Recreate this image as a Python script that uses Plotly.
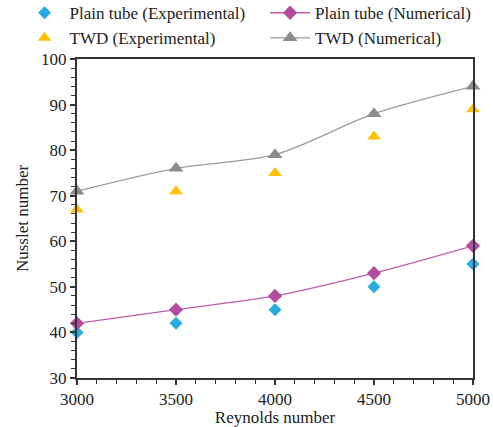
import plotly.graph_objects as go

# Reynolds numbers on the x axis
reynolds = [3000, 3500, 4000, 4500, 5000]

# Nusselt number series
plain_exp = [40, 42, 45, 50, 55]
plain_num = [42, 45, 48, 53, 59]
twd_exp = [67, 71, 75, 83, 89]
twd_num = [71, 76, 79, 88, 94]

FONT = "Liberation Serif, Times New Roman, serif"
AXIS_COLOR = "#333333"
TEXT_COLOR = "#222222"

fig = go.Figure()

# experimental points in the left legend column, numerical curves in the right one
fig.add_trace(go.Scatter(
    x=reynolds, y=plain_exp, mode="markers", name="Plain tube (Experimental)",
    marker=dict(symbol="diamond", size=10, color="#29ABE2"), legend="legend",
    cliponaxis=False,
))
fig.add_trace(go.Scatter(
    x=reynolds, y=plain_num, mode="lines+markers", name="Plain tube (Numerical)",
    line=dict(color="#C15AA8", width=1.3, shape="spline", smoothing=0.8),
    marker=dict(symbol="diamond", size=11, color="#B14C9E"), legend="legend2",
    cliponaxis=False,
))
fig.add_trace(go.Scatter(
    x=reynolds, y=twd_exp, mode="markers", name="TWD (Experimental)",
    marker=dict(symbol="triangle-up", size=12, color="#FFC000"), legend="legend",
    cliponaxis=False,
))
fig.add_trace(go.Scatter(
    x=reynolds, y=twd_num, mode="lines+markers", name="TWD (Numerical)",
    line=dict(color="#9A9A9C", width=1.3, shape="spline", smoothing=0.8),
    marker=dict(symbol="triangle-up", size=13, color="#8C8C8E"), legend="legend2",
    cliponaxis=False,
))

axis_common = dict(
    showline=True, linecolor=AXIS_COLOR, linewidth=2, mirror=True,
    showgrid=False, zeroline=False,
    ticks="outside", ticklen=5, tickwidth=1.5, tickcolor=AXIS_COLOR,
    tickfont=dict(family=FONT, size=17, color=TEXT_COLOR),
)

fig.update_xaxes(
    range=[3000, 5000], tickvals=reynolds, ticktext=[str(v) for v in reynolds],
    title=dict(text="Reynolds number", font=dict(family=FONT, size=17, color=TEXT_COLOR), standoff=2),
    minor=dict(dtick=100, ticks="outside", ticklen=4, tickcolor=AXIS_COLOR, tickwidth=1),
    **axis_common,
)
fig.update_yaxes(
    range=[30, 100], dtick=10,
    title=dict(text="Nusslet number", font=dict(family=FONT, size=17, color=TEXT_COLOR), standoff=8),
    minor=dict(dtick=2, ticks="outside", ticklen=4, tickcolor=AXIS_COLOR, tickwidth=1),
    **axis_common,
)

legend_common = dict(
    orientation="v", yanchor="top", xanchor="left", y=1.2,
    itemwidth=40,
    font=dict(family=FONT, size=17, color=TEXT_COLOR),
    bgcolor="rgba(0,0,0,0)", traceorder="normal", tracegroupgap=0,
)

fig.update_layout(
    width=493, height=427,
    margin=dict(l=77, r=20, t=59, b=49, autoexpand=False),
    paper_bgcolor="white", plot_bgcolor="white",
    font=dict(family=FONT, size=17, color=TEXT_COLOR),
    legend=dict(x=-0.145, **legend_common),
    legend2=dict(x=0.475, **legend_common),
)

fig.write_html("out.html")
